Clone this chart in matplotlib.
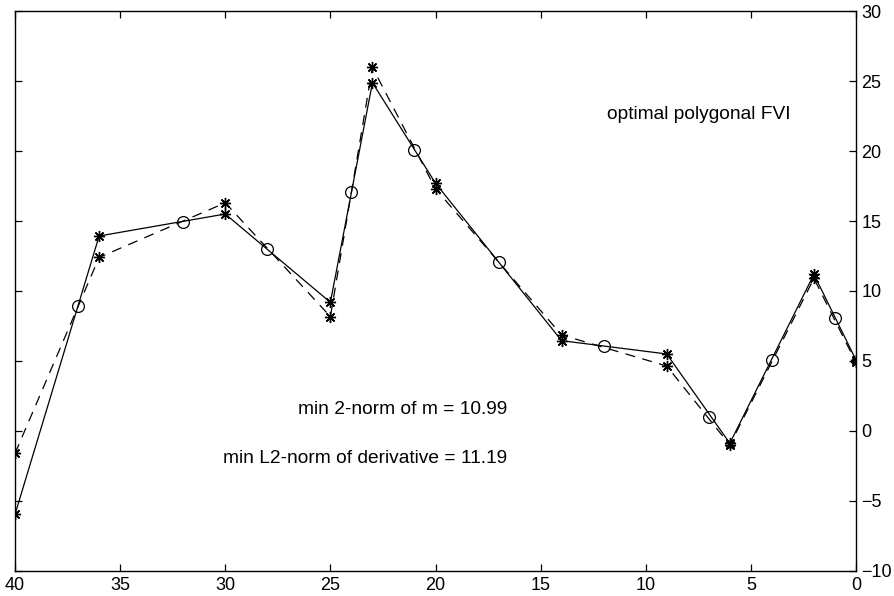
import matplotlib.pyplot as plt

plt.rcParams['font.family'] = ['Liberation Sans', 'DejaVu Sans']

# knots of the two polygonal curves (x positions shared)
knot_x = [40, 36, 30, 25, 23, 20, 14, 9, 6, 2, 0]
solid_y = [-5.95, 13.93, 15.5, 9.19, 24.88, 17.7, 6.45, 5.5, -0.88, 11.19, 5.07]
dashed_y = [-1.6, 12.4, 16.3, 8.17, 25.98, 17.3, 6.86, 4.64, -1.0, 10.9, 4.9]

# open circles
circ_x = [37, 32, 28, 24, 21, 17, 12, 7, 4, 1]
circ_y = [8.93, 14.95, 12.98, 17.1, 20.1, 12.05, 6.09, 1.02, 5.07, 8.05]

xticks = list(range(0, 41, 5))
yticks = list(range(-10, 31, 5))

fig = plt.figure(figsize=(8.95, 5.96), dpi=100)
ax = fig.add_axes([0.0168, 0.042, 0.9396, 0.9395])

star = (8, 2, 0)
ax.plot(knot_x, dashed_y, color='black', lw=0.9, dashes=(8, 6),
        marker=star, ms=8, mew=1.0)
ax.plot(knot_x, solid_y, color='black', lw=0.9,
        marker=star, ms=8, mew=1.0)
ax.plot(circ_x, circ_y, ls='none', marker='o', ms=8.5, mfc='none',
        mec='black', mew=0.9)

ax.text(3.1, 22.6, 'optimal polygonal FVI', fontsize=13.8, ha='right', va='center')
ax.text(16.6, 1.5, 'min 2-norm of m = 10.99', fontsize=13.8, ha='right', va='center')
ax.text(16.6, -2.0, 'min L2-norm of derivative = 11.19', fontsize=13.8,
        ha='right', va='center')

ax.set_xlim(40, 0)
ax.set_ylim(-10, 30)
ax.set_xticks(xticks)
ax.set_yticks(yticks)
ax.tick_params(direction='in', length=5, width=0.9, top=True, right=True,
               left=True, labelleft=False, labelright=True, labelsize=13,
               pad=4)
for s in ax.spines.values():
    s.set_linewidth(1.0)

fig.savefig('out.png', dpi=100)
